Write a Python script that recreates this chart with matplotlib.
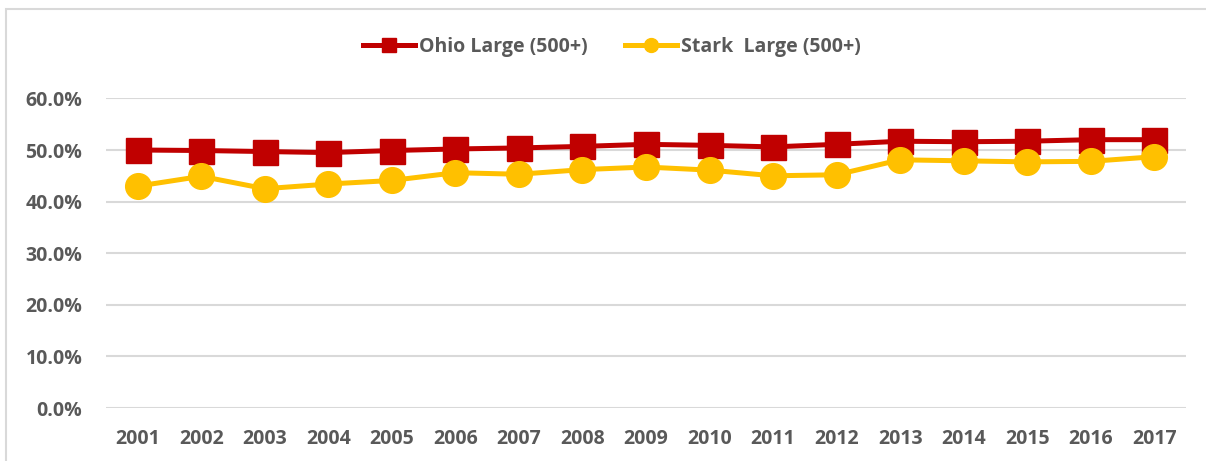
import matplotlib
matplotlib.use("Agg")
import matplotlib.pyplot as plt
from matplotlib.lines import Line2D
from matplotlib.patches import Rectangle
from matplotlib.ticker import FuncFormatter

years = ["2001", "2002", "2003", "2004", "2005", "2006", "2007", "2008", "2009",
         "2010", "2011", "2012", "2013", "2014", "2015", "2016", "2017"]
ohio_large = [50.0, 49.9, 49.7, 49.5, 49.9, 50.2, 50.4, 50.7, 51.1,
              50.9, 50.6, 51.1, 51.7, 51.6, 51.7, 52.0, 52.0]
stark_large = [43.0, 44.9, 42.5, 43.4, 44.1, 45.6, 45.3, 46.2, 46.7,
               46.1, 45.0, 45.2, 48.1, 47.9, 47.7, 47.8, 48.7]
series_names = ["Ohio Large (500+)", "Stark  Large (500+)"]
y_ticks = [0, 10, 20, 30, 40, 50, 60]

RED = "#C00000"
YEL = "#FFC000"
GREY = "#595959"
GRID = "#D9D9D9"
FONT = ["Open Sans", "DejaVu Sans"]
FS = 14

plt.rcParams["font.family"] = FONT
plt.rcParams["font.weight"] = "bold"

W, H = 1206, 461
fig = plt.figure(figsize=(W / 100, H / 100), dpi=100)

# chart border (cut at right/bottom)
fig.patches.append(Rectangle((6 / W, -0.1), 1.0, 1.1 - 9 / H, transform=fig.transFigure,
                             fill=False, edgecolor=GRID, linewidth=1.5))

# partially visible title above the chart (only descenders show)
fig.text(110 / W, 1.0 + 5 / H, "Employment Large", fontsize=15, fontweight="bold",
         color="black", va="baseline", ha="left")

ax = fig.add_axes([106 / W, 53 / H, 1080 / W, 309.6 / H])
x = list(range(len(years)))
ax.plot(x, ohio_large, color=RED, lw=3.6, marker="s", markersize=18, clip_on=False, zorder=3)
ax.plot(x, stark_large, color=YEL, lw=3.6, marker="o", markersize=18.5, clip_on=False, zorder=4)

ax.set_xlim(-0.5, len(years) - 0.5)
ax.set_ylim(0, 60)
ax.set_yticks(y_ticks)
ax.yaxis.set_major_formatter(FuncFormatter(lambda v, p: f"{v:.1f}%"))
ax.set_xticks(x)
ax.set_xticklabels(years)
ax.grid(axis="y", color=GRID, lw=1.5, zorder=0)
ax.set_axisbelow(True)
for s in ax.spines.values():
    s.set_visible(False)
ax.tick_params(axis="both", length=0, labelsize=FS, labelcolor=GREY)
ax.tick_params(axis="y", pad=17)
ax.tick_params(axis="x", pad=15)
for t in ax.get_xticklabels() + ax.get_yticklabels():
    t.set_fontweight("bold")

handles = [
    Line2D([], [], color=RED, lw=3.6, marker="s", markersize=10),
    Line2D([], [], color=YEL, lw=3.6, marker="o", markersize=10),
]
leg = fig.legend(handles, series_names, loc="center", bbox_to_anchor=(612 / W, 1 - 47 / H),
                 ncol=2, frameon=False, handlelength=2.7, handletextpad=0.2,
                 columnspacing=1.9, prop={"family": FONT, "weight": "bold", "size": FS})
for t in leg.get_texts():
    t.set_color(GREY)

fig.savefig("out.png", dpi=100)
